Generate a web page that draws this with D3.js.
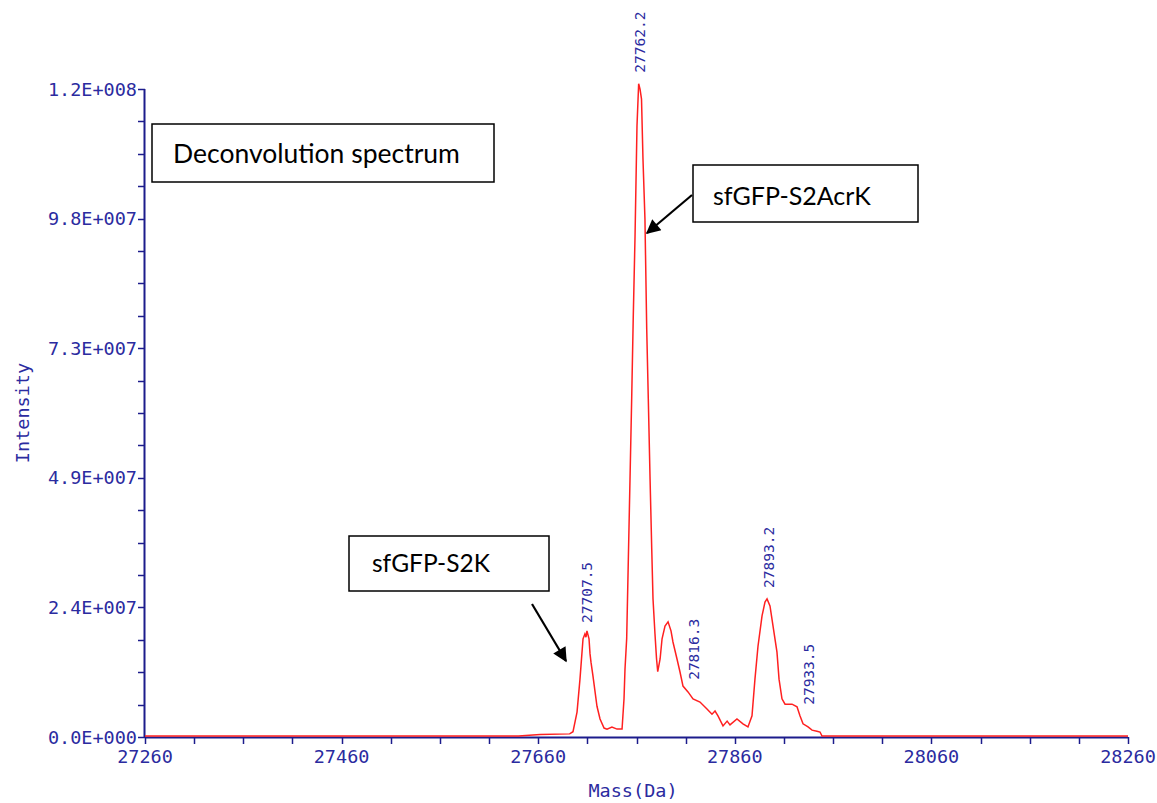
<!DOCTYPE html>
<html>
<head>
<meta charset="utf-8">
<script src="https://cdn.jsdelivr.net/npm/d3@7"></script>
<style>
  body { margin: 0; background: #fff; }
  svg { display: block; }
</style>
</head>
<body>
<div id="chart"></div>
<script>
// spectrum, mass in Da, intensity in units of 1e6
const masses = [27260, 27640, 27662, 27692, 27695.4, 27699.5, 27702.5, 27705.6, 27707.5, 27708.6,
  27709.6, 27711.7, 27712.7, 27713.7, 27715.7, 27719.8, 27722.9, 27727, 27730, 27735,
  27740.2, 27745.3, 27747.3, 27748.3, 27750.0, 27751.7, 27753.4, 27755.1, 27756.7, 27758.5,
  27760.5, 27762.2, 27763.6, 27765.1, 27766.6, 27768.6, 27770.4, 27772.0, 27773.8, 27775.5,
  27776.8, 27778.8, 27780.4, 27781.6, 27784.0, 27786.0, 27789.0, 27792.1, 27795.1, 27797.1,
  27801.2, 27804.2, 27807.3, 27812.4, 27817.5, 27824.6, 27831.7, 27836.8, 27839.9, 27842.9,
  27848.0, 27852.2, 27855.1, 27862.2, 27868.3, 27873.4, 27877.5, 27880.5, 27883.6, 27887.7,
  27890.7, 27892.8, 27895.8, 27898.9, 27902.9, 27905.0, 27908.0, 27911.1, 27918.2, 27923.3,
  27926.3, 27929.4, 27934.5, 27938.6, 27943.6, 27946.7, 27948.7, 28260];
const intensities = [0, 0, 0.3, 0.4, 0.8, 4.5, 10.7, 18.3, 19.2, 18.6,
  19.8, 18.3, 15.5, 13.9, 11.3, 5.6, 3.2, 1.5, 1.3, 1.7,
  1.3, 1.3, 7.0, 12.6, 18.3, 33.3, 48.4, 63.5, 78.9, 94.0,
  114.9, 122.8, 121.8, 119.9, 108.6, 97.3, 76.6, 63.5, 48.4, 35.2,
  25.8, 19.2, 14.5, 12.1, 14.5, 18.3, 20.7, 21.5, 19.8, 17.7,
  14.5, 12.1, 9.4, 8.3, 7.0, 6.4, 5.1, 4.1, 4.7, 3.8,
  1.9, 2.8, 2.1, 3.2, 2.3, 1.7, 3.8, 10.7, 16.9, 22.6,
  25.2, 25.8, 24.5, 20.7, 15.8, 10.7, 7.0, 6.0, 6.0, 5.5,
  3.8, 2.3, 1.7, 1.1, 0.9, 0.75, 0, 0];

// peak labels
const peakMasses = [27707.5, 27762.2, 27816.3, 27893.2, 27933.5];
const peakLevels = [19.2, 122.8, 8.5, 25.8, 3.8];

// axes
const xTicks = [27260, 27460, 27660, 27860, 28060, 28260];
const yTickValues = [0, 24.4, 48.8, 73.2, 97.6, 122];
const yTickLabels = ["0.0E+000", "2.4E+007", "4.9E+007", "7.3E+007", "9.8E+007", "1.2E+008"];

const width = 1157;
const height = 803;
const margin = { top: 89, right: 29, bottom: 66, left: 145 };
const axisColor = "#1c1c8c";
const textColor = "#2b2ba0";
const monoFont = "'DejaVu Sans Mono', monospace";

const svg = d3.select("#chart")
  .append("svg")
  .attr("width", width)
  .attr("height", height);

const x = d3.scaleLinear()
  .domain([27260, 28260])
  .range([margin.left, width - margin.right]);

const y = d3.scaleLinear()
  .domain([0, 122])
  .range([height - margin.bottom, margin.top]);

const y0 = height - margin.bottom;

// x axis
const xMinor = d3.range(27260, 28261, 50);
const xg = svg.append("g");
xg.append("line")
  .attr("x1", x(27260)).attr("x2", x(28260))
  .attr("y1", y0 + 0.5).attr("y2", y0 + 0.5)
  .attr("stroke", axisColor).attr("stroke-width", 2);
xg.selectAll("line.tick")
  .data(xMinor)
  .join("line")
  .attr("class", "tick")
  .attr("x1", d => Math.round(x(d)) + 0.5).attr("x2", d => Math.round(x(d)) + 0.5)
  .attr("y1", y0).attr("y2", y0 + 7)
  .attr("stroke", axisColor).attr("stroke-width", 1.5);
xg.selectAll("text")
  .data(xTicks)
  .join("text")
  .attr("x", d => x(d))
  .attr("y", y0 + 26)
  .attr("text-anchor", "middle")
  .attr("fill", textColor)
  .style("font-family", monoFont)
  .style("font-size", "18.5px")
  .text(d => d);

// y axis
const yMinor = d3.range(0, 21).map(i => i * 122 / 20);
const yg = svg.append("g");
yg.append("line")
  .attr("x1", x(27260) - 0.5).attr("x2", x(27260) - 0.5)
  .attr("y1", y(122)).attr("y2", y0 + 1)
  .attr("stroke", axisColor).attr("stroke-width", 2);
yg.selectAll("line.tick")
  .data(yMinor)
  .join("line")
  .attr("class", "tick")
  .attr("x1", x(27260) - 7).attr("x2", x(27260))
  .attr("y1", d => Math.round(y(d)) + 0.5).attr("y2", d => Math.round(y(d)) + 0.5)
  .attr("stroke", axisColor).attr("stroke-width", 1.5);
yg.selectAll("text")
  .data(yTickValues)
  .join("text")
  .attr("x", x(27260) - 8)
  .attr("y", d => y(d))
  .attr("dy", "0.36em")
  .attr("text-anchor", "end")
  .attr("fill", textColor)
  .style("font-family", monoFont)
  .style("font-size", "18.5px")
  .text((d, i) => yTickLabels[i]);

// axis titles
svg.append("text")
  .attr("x", 633)
  .attr("y", 797)
  .attr("text-anchor", "middle")
  .attr("fill", textColor)
  .style("font-family", monoFont)
  .style("font-size", "18.5px")
  .text("Mass(Da)");

svg.append("text")
  .attr("transform", "translate(29,413) rotate(-90)")
  .attr("text-anchor", "middle")
  .attr("fill", textColor)
  .style("font-family", monoFont)
  .style("font-size", "18.5px")
  .text("Intensity");

// spectrum line
const data = masses.map((m, i) => ({ m: m, v: intensities[i] }));
svg.append("path")
  .datum(data)
  .attr("fill", "none")
  .attr("stroke", "#ff2020")
  .attr("stroke-width", 1.5)
  .attr("d", d3.line()
    .x(d => x(d.m))
    .y(d => y(d.v) - 1));

// peak labels
svg.selectAll("text.peak")
  .data(peakMasses)
  .join("text")
  .attr("class", "peak")
  .attr("transform", (d, i) => "translate(" + (x(d) + 1.5) + "," + (y(peakLevels[i]) - 12) + ") rotate(-90)")
  .attr("dy", "0.36em")
  .attr("fill", textColor)
  .style("font-family", monoFont)
  .style("font-size", "14.5px")
  .text(d => d.toFixed(1));

// annotation boxes
const boxFont = "Lato, 'Open Sans', sans-serif";
const boxes = [
  { x: 152, y: 124, w: 342, h: 58, tx: 173, ty: 163, size: 26.5, label: "Deconvolution spectrum" },
  { x: 693, y: 165, w: 225, h: 57, tx: 713, ty: 205, size: 25, label: "sfGFP-S2AcrK" },
  { x: 349, y: 536, w: 200, h: 55, tx: 372, ty: 572, size: 24.5, label: "sfGFP-S2K" }
];
const bg = svg.selectAll("g.box")
  .data(boxes)
  .join("g")
  .attr("class", "box");
bg.append("rect")
  .attr("x", d => d.x).attr("y", d => d.y)
  .attr("width", d => d.w).attr("height", d => d.h)
  .attr("fill", "#fff")
  .attr("stroke", "#000")
  .attr("stroke-width", 1.5);
bg.append("text")
  .attr("x", d => d.tx).attr("y", d => d.ty)
  .attr("fill", "#000")
  .style("font-family", boxFont)
  .style("font-size", d => d.size + "px")
  .text(d => d.label);

// arrows
svg.append("defs").append("marker")
  .attr("id", "head")
  .attr("viewBox", "0 0 10 10")
  .attr("refX", 9).attr("refY", 5)
  .attr("markerWidth", 7).attr("markerHeight", 6.5)
  .attr("markerUnits", "strokeWidth")
  .attr("orient", "auto")
  .append("path")
  .attr("d", "M0,0 L10,5 L0,10 Z")
  .attr("fill", "#000");

const arrows = [
  [692, 195, 647, 233],
  [532, 604, 566, 661]
];
svg.selectAll("line.arrow")
  .data(arrows)
  .join("line")
  .attr("class", "arrow")
  .attr("x1", d => d[0]).attr("y1", d => d[1])
  .attr("x2", d => d[2]).attr("y2", d => d[3])
  .attr("stroke", "#000")
  .attr("stroke-width", 2.2)
  .attr("marker-end", "url(#head)");
</script>
</body>
</html>
